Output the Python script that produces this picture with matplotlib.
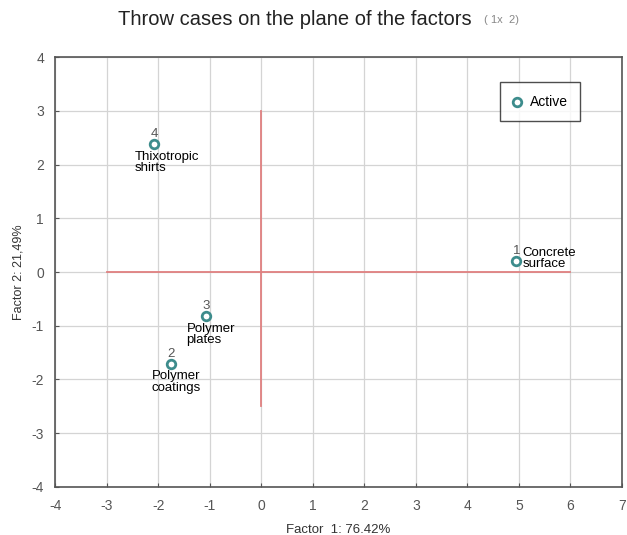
import matplotlib
matplotlib.use("Agg")
import matplotlib.pyplot as plt

plt.rcParams['font.family'] = ['Liberation Sans', 'DejaVu Sans']
plt.rcParams['axes.unicode_minus'] = False

case_ids = ["1", "2", "3", "4"]
case_names = ["Concrete\nsurface", "Polymer\ncoatings", "Polymer\nplates", "Thixotropic\nshirts"]
factor1 = [4.95, -1.75, -1.07, -2.08]
factor2 = [0.20, -1.71, -0.82, 2.38]

hline_x = [-3, 6]
hline_y = [0, 0]
vline_x = [0, 0]
vline_y = [3, -2.5]

xticks = list(range(-4, 8))
yticks = list(range(-4, 5))

fig = plt.figure(figsize=(6.27, 5.35), dpi=100)
ax = fig.add_axes([0.088, 0.090, 0.904, 0.803])
ax.set_xlim(-4, 7)
ax.set_ylim(-4, 4)
ax.set_xticks(xticks)
ax.set_yticks(yticks)
ax.grid(True, color='#d4d4d4', linewidth=0.9)
ax.set_axisbelow(True)
for s in ax.spines.values():
    s.set_color('#555555')
    s.set_linewidth(1.2)
ax.tick_params(colors='#555555', labelsize=10, length=3, direction='in', labelcolor='#555555')
ax.tick_params(axis='x', pad=9)
ax.tick_params(axis='y', pad=8)

ax.plot(hline_x, hline_y, color='#e08080', linewidth=1.3, zorder=2)
ax.plot(vline_x, vline_y, color='#e08080', linewidth=1.3, zorder=2)

color = '#3d8c8c'
ax.scatter(factor1, factor2, s=38, facecolors='white', edgecolors=color, linewidths=2, zorder=4, label='Active')

for i, (x, y) in enumerate(zip(factor1, factor2)):
    ax.text(x, y + 0.08, case_ids[i], ha='center', va='bottom', fontsize=9.5, color='#555555', zorder=5)
    if i == 0:
        ax.text(x + 0.12, y + 0.05, case_names[i], ha='left', va='center', fontsize=9.5,
                linespacing=0.95, zorder=5)
    else:
        ax.text(x - 0.38, y - 0.12, case_names[i], ha='left', va='top', fontsize=9.5,
                linespacing=0.95, zorder=5)

leg = ax.legend(loc='upper right', bbox_to_anchor=(0.926, 0.942), frameon=True, fancybox=False,
                fontsize=10, handletextpad=0.6, borderpad=0.9, handlelength=0.6, borderaxespad=0)
leg.get_frame().set_edgecolor('#222222')
leg.get_frame().set_linewidth(1.0)

ax.set_xlabel('Factor  1: 76.42%', fontsize=9.5, color='#333333', labelpad=8)
ax.set_ylabel('Factor 2: 21,49%', fontsize=9, color='#333333', labelpad=5)

fig.text(0.188, 0.963, 'Throw cases on the plane of the factors', fontsize=14.5, color='#222222', va='center')
fig.text(0.772, 0.963, '( 1x  2)', fontsize=8, color='#888888', va='center')

fig.savefig('out.png', dpi=100)
